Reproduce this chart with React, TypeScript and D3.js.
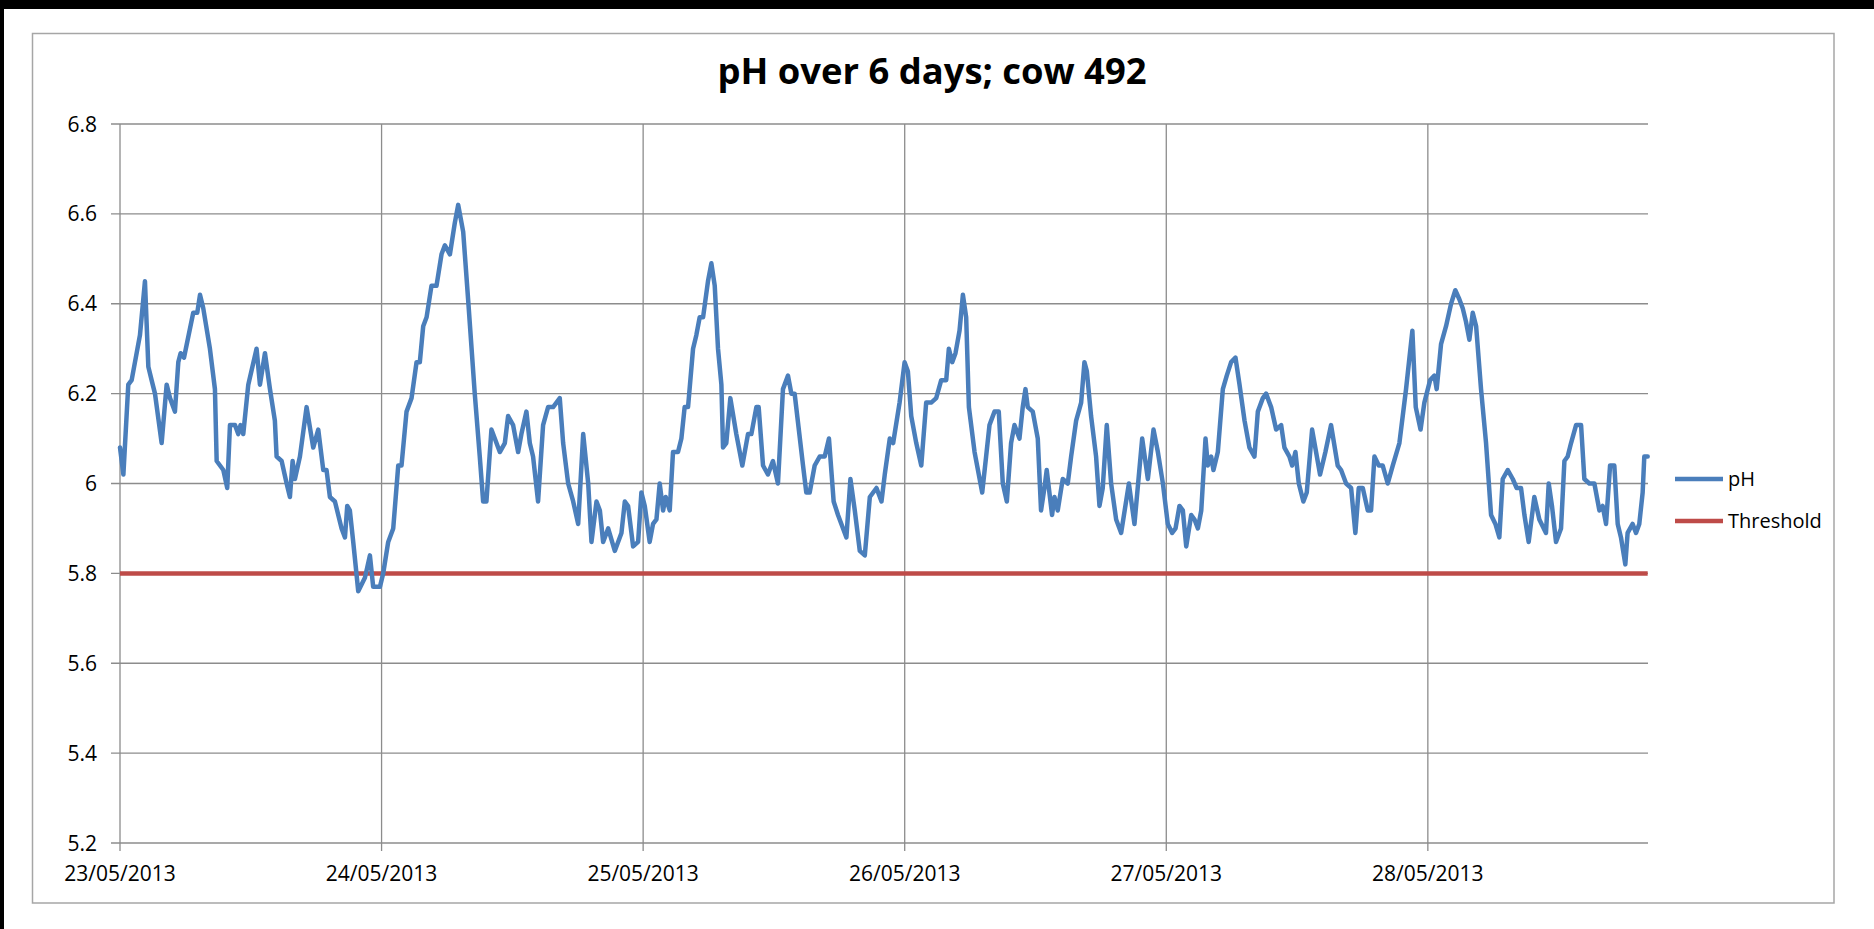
import React from "react";
import * as d3 from "d3";

// hours since 23/05/2013 00:00
const hours: number[] = [
  0, 0.31, 0.76, 1.07, 1.83, 2.29, 2.6, 2.9, 3.21, 3.82, 4.28, 4.59, 5.04, 5.35, 5.56, 5.87, 6.72, 7.09, 7.34, 7.64,
  8.25, 8.71, 8.87, 9.48, 9.84, 10.09, 10.55, 10.85, 11.06, 11.31, 11.77, 12.53, 12.84, 13.3, 13.76, 14.21, 14.37,
  14.83, 15.29, 15.59, 15.84, 16.05, 16.51, 17.12, 17.73, 18.19, 18.65, 18.95, 19.26, 19.72, 20.33, 20.64, 20.85,
  21.09, 21.4, 21.86, 22.47, 22.93, 23.23, 23.85, 24.15, 24.61, 25.07, 25.53, 25.83, 26.29, 26.75, 27.21, 27.51,
  27.82, 28.13, 28.58, 29.04, 29.5, 29.81, 30.27, 30.72, 31.03, 31.49, 31.94, 32.55, 33.01, 33.32, 33.62, 34.08,
  34.39, 34.85, 35.31, 35.61, 36.07, 36.53, 36.83, 37.29, 37.6, 37.9, 38.36, 38.82, 39.28, 39.74, 40.35, 40.66,
  41.12, 41.58, 42.04, 42.5, 42.96, 43.26, 43.72, 44.03, 44.33, 44.79, 45.4, 46.01, 46.32, 46.62, 47.08, 47.54,
  47.84, 48.15, 48.6, 48.91, 49.22, 49.52, 49.83, 50.07, 50.44, 50.74, 51.2, 51.51, 51.81, 52.12, 52.58, 52.88,
  53.19, 53.5, 53.95, 54.26, 54.57, 54.87, 55.18, 55.33, 55.63, 56.0, 56.55, 57.1, 57.62, 57.93, 58.39, 58.6, 59.0,
  59.45, 59.91, 60.37, 60.83, 61.29, 61.6, 61.9, 62.67, 62.97, 63.28, 63.74, 64.2, 64.66, 65.05, 65.48, 65.88,
  66.65, 67.02, 67.42, 67.88, 68.34, 68.8, 69.41, 69.87, 70.17, 70.63, 70.94, 71.07, 71.53, 71.99, 72.29, 72.6,
  73.06, 73.52, 73.97, 74.43, 74.89, 75.35, 75.81, 76.05, 76.36, 76.66, 77.03, 77.34, 77.64, 77.89, 78.41, 79.11,
  79.47, 79.78, 80.24, 80.63, 81.0, 81.37, 81.76, 82.07, 82.53, 82.83, 83.08, 83.29, 83.75, 84.21, 84.51, 84.82,
  85.03, 85.52, 85.74, 86.04, 86.5, 86.96, 87.27, 87.73, 88.19, 88.49, 88.71, 89.1, 89.56, 89.87, 90.17, 90.54,
  90.94, 91.4, 91.86, 92.57, 93.08, 93.79, 94.31, 94.83, 95.23, 95.69, 96.14, 96.54, 96.85, 97.21, 97.52, 97.83,
  98.29, 98.59, 98.9, 99.21, 99.6, 99.81, 100.12, 100.33, 100.73, 101.19, 101.55, 101.95, 102.35, 102.72, 103.18,
  103.63, 104.09, 104.4, 104.86, 105.16, 105.62, 106.08, 106.54, 106.84, 107.3, 107.55, 107.85, 108.16, 108.58,
  108.89, 109.38, 110.11, 110.6, 111.12, 111.73, 112.04, 112.5, 112.96, 113.35, 113.66, 114.03, 114.49, 114.79,
  115.1, 115.5, 115.86, 116.32, 116.78, 117.39, 118.0, 118.58, 118.89, 119.33, 119.68, 120.21, 120.6, 120.81,
  121.21, 121.67, 122.13, 122.52, 122.89, 123.2, 123.5, 123.81, 124.12, 124.43, 124.88, 125.34, 125.8, 126.2,
  126.56, 126.87, 127.33, 127.79, 128.15, 128.55, 128.86, 129.25, 129.77, 130.23, 130.84, 131.09, 131.39, 131.76,
  132.22, 132.53, 132.83, 133.14, 133.6, 134.06, 134.36, 134.82, 135.28, 135.74, 136.04, 136.35, 136.72, 137.11,
  137.42, 137.72, 138.12, 138.33, 138.79, 139.1, 139.4, 139.71, 139.86, 140.17,
];

const phValues: number[] = [
  6.08, 6.02, 6.22, 6.23, 6.33, 6.45, 6.26, 6.23, 6.2, 6.09, 6.22, 6.19, 6.16, 6.27, 6.29, 6.28, 6.38, 6.38, 6.42, 6.39,
  6.3, 6.21, 6.05, 6.03, 5.99, 6.13, 6.13, 6.11, 6.13, 6.11, 6.22, 6.3, 6.22, 6.29, 6.21, 6.14, 6.06,
  6.05, 6.0, 5.97, 6.05, 6.01, 6.06, 6.17, 6.08, 6.12, 6.03, 6.03, 5.97, 5.96, 5.9, 5.88, 5.95,
  5.94, 5.87, 5.76, 5.79, 5.84, 5.77, 5.77, 5.8, 5.87, 5.9, 6.04, 6.04, 6.16, 6.19, 6.27, 6.27,
  6.35, 6.37, 6.44, 6.44, 6.51, 6.53, 6.51, 6.58, 6.62, 6.56, 6.41, 6.2, 6.06, 5.96, 5.96, 6.12,
  6.1, 6.07, 6.09, 6.15, 6.13, 6.07, 6.11, 6.16, 6.09, 6.06, 5.96, 6.13, 6.17, 6.17, 6.19, 6.09,
  6.0, 5.96, 5.91, 6.11, 6.0, 5.87, 5.96, 5.94, 5.87, 5.9, 5.85, 5.89, 5.96, 5.95, 5.86, 5.87,
  5.98, 5.95, 5.87, 5.91, 5.92, 6.0, 5.94, 5.97, 5.94, 6.07, 6.07, 6.1, 6.17, 6.17, 6.3, 6.33,
  6.37, 6.37, 6.45, 6.49, 6.44, 6.3, 6.22, 6.08, 6.09, 6.19, 6.11, 6.04, 6.11, 6.11, 6.17, 6.17, 6.04,
  6.02, 6.05, 6.0, 6.21, 6.24, 6.2, 6.2, 6.04, 5.98, 5.98, 6.04, 6.06, 6.06, 6.1, 5.96, 5.93,
  5.88, 6.01, 5.94, 5.85, 5.84, 5.97, 5.99, 5.96, 6.02, 6.1, 6.09, 6.11, 6.18, 6.27, 6.25, 6.15,
  6.09, 6.04, 6.18, 6.18, 6.19, 6.23, 6.23, 6.3, 6.27, 6.29, 6.34, 6.42, 6.37, 6.17, 6.07, 5.98,
  6.06, 6.13, 6.16, 6.16, 6.0, 5.96, 6.09, 6.13, 6.1, 6.17, 6.21, 6.17, 6.16, 6.1, 5.94, 5.99,
  6.03, 5.93, 5.97, 5.94, 6.01, 6.0, 6.06, 6.14, 6.18, 6.27, 6.25, 6.15, 6.06, 5.95, 5.99, 6.13,
  6.0, 5.92, 5.89, 6.0, 5.91, 6.1, 6.01, 6.12, 6.07, 6.0, 5.91, 5.89, 5.9, 5.95, 5.94, 5.86,
  5.93, 5.92, 5.9, 5.94, 6.1, 6.04, 6.06, 6.03, 6.07, 6.21, 6.24, 6.27, 6.28, 6.22, 6.14,
  6.08, 6.06, 6.16, 6.19, 6.2, 6.17, 6.12, 6.13, 6.08, 6.06, 6.04, 6.07, 6.0, 5.96,
  5.98, 6.12, 6.02, 6.07, 6.13, 6.04, 6.03, 6.0, 5.99, 5.89, 5.99, 5.99, 5.94, 5.94,
  6.06, 6.04, 6.04, 6.0, 6.04, 6.09, 6.21, 6.34, 6.17, 6.12, 6.18, 6.23, 6.24, 6.21,
  6.31, 6.35, 6.4, 6.43, 6.41, 6.39, 6.36, 6.32, 6.38, 6.35, 6.21, 6.09, 5.93, 5.91,
  5.88, 6.01, 6.03, 6.01, 5.99, 5.99, 5.93, 5.87, 5.97, 5.92, 5.89, 6.0, 5.95, 5.87,
  5.9, 6.05, 6.06, 6.09, 6.13, 6.13, 6.01, 6.0, 6.0, 5.94, 5.95, 5.91, 6.04, 6.04,
  5.91, 5.88, 5.82, 5.89, 5.91, 5.89, 5.91, 5.98, 6.06, 6.06,
];

const thresholdValue = 5.8;
const yTicks: number[] = [5.2, 5.4, 5.6, 5.8, 6.0, 6.2, 6.4, 6.6, 6.8];
const yTickLabels: string[] = ["5.2", "5.4", "5.6", "5.8", "6", "6.2", "6.4", "6.6", "6.8"];
const dayTickLabels: string[] = ["23/05/2013", "24/05/2013", "25/05/2013", "26/05/2013", "27/05/2013", "28/05/2013"];
const seriesNames: string[] = ["pH", "Threshold"];
const titleText = "pH over 6 days; cow 492";

const START = new Date(2013, 4, 23, 0, 0, 0);
const HOUR = 3600 * 1000;
const END_HOURS = 140.2;

export default function App() {
  const W = 1874;
  const H = 929;
  const left = 120;
  const right = 1648;
  const top = 124;
  const bottom = 843;

  const x = d3
    .scaleTime()
    .domain([START, new Date(START.getTime() + END_HOURS * HOUR)])
    .range([left, right]);
  const y = d3.scaleLinear().domain([5.2, 6.8]).range([bottom, top]);

  const data = hours.map((h, i) => ({ t: new Date(START.getTime() + h * HOUR), v: phValues[i] }));
  const line = d3
    .line<{ t: Date; v: number }>()
    .x((d) => x(d.t))
    .y((d) => y(d.v));
  const thrData = [
    { t: START, v: thresholdValue },
    { t: new Date(START.getTime() + hours[hours.length - 1] * HOUR), v: thresholdValue },
  ];
  const dayTicks = dayTickLabels.map((_, i) => new Date(START.getTime() + i * 24 * HOUR));

  const blue = "#4A7EBB";
  const red = "#BE4B48";
  const grid = "#8C8C8C";
  const font = "'Open Sans', 'Liberation Sans', sans-serif";

  return (
    <svg
      width={W}
      height={H}
      style={{ position: "absolute", left: 0, top: 0, display: "block" }}
      xmlns="http://www.w3.org/2000/svg"
    >
      <rect x={0} y={0} width={W} height={H} fill="#000" />
      <rect x={4} y={9} width={W - 4} height={H - 9} fill="#fff" />
      <rect x={32.5} y={33.5} width={1834 - 32.5} height={903 - 33.5} fill="#fff" stroke="#A6A6A6" strokeWidth={1.5} />

      <text
        x={932}
        y={84}
        textAnchor="middle"
        fontFamily={font}
        fontWeight={700}
        fontSize={36}
        textLength={429}
        lengthAdjust="spacingAndGlyphs"
        fill="#000"
      >
        {titleText}
      </text>

      {yTicks.map((t) => (
        <line key={"h" + t} x1={left - 9} x2={right} y1={y(t)} y2={y(t)} stroke={grid} strokeWidth={1.3} />
      ))}
      {dayTicks.map((d, i) => (
        <line key={"v" + i} x1={x(d)} x2={x(d)} y1={top} y2={bottom + 8} stroke={grid} strokeWidth={1.3} />
      ))}

      {yTicks.map((t, i) => (
        <text
          key={"yl" + t}
          x={97}
          y={y(t)}
          dy="0.36em"
          textAnchor="end"
          fontFamily={font}
          fontSize={21}
          fill="#000"
        >
          {yTickLabels[i]}
        </text>
      ))}
      {dayTicks.map((d, i) => (
        <text key={"xl" + i} x={x(d)} y={881} textAnchor="middle" fontFamily={font} fontSize={21} fill="#000">
          {dayTickLabels[i]}
        </text>
      ))}

      <path d={line(thrData) || ""} fill="none" stroke={red} strokeWidth={4.5} />
      <path
        d={line(data) || ""}
        fill="none"
        stroke={blue}
        strokeWidth={4.5}
        strokeLinejoin="round"
        strokeLinecap="round"
      />

      {seriesNames.map((name, i) => {
        const ly = 479 + i * 42;
        return (
          <g key={name}>
            <line x1={1675} x2={1723} y1={ly} y2={ly} stroke={i === 0 ? blue : red} strokeWidth={4.5} />
            <text x={1728} y={ly} dy="0.36em" fontFamily={font} fontSize={20} fill="#000">
              {name}
            </text>
          </g>
        );
      })}
    </svg>
  );
}
